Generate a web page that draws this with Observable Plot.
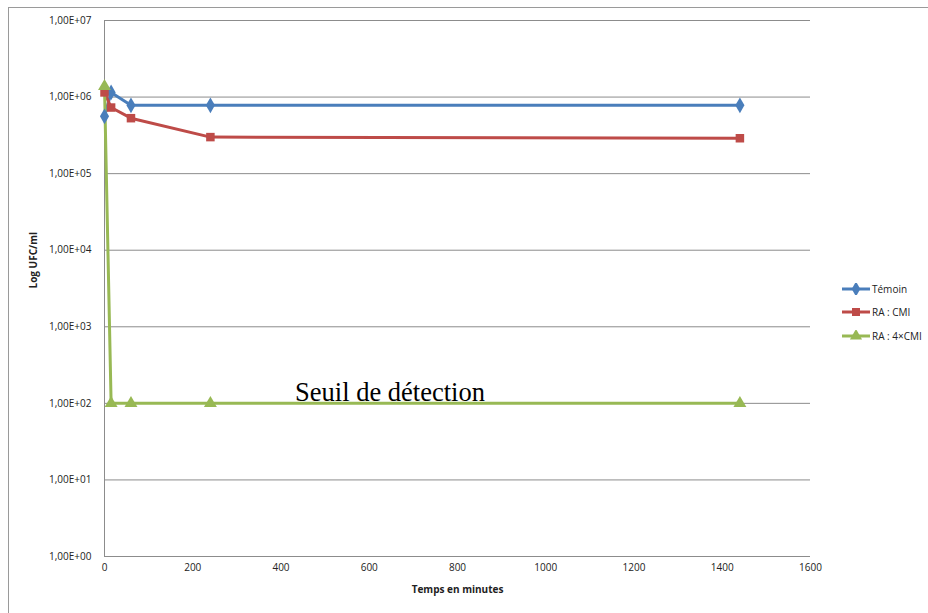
<!DOCTYPE html>
<html><head><meta charset="utf-8">
<script src="https://cdn.jsdelivr.net/npm/d3@7"></script>
<script src="https://cdn.jsdelivr.net/npm/@observablehq/plot@0.6"></script>
<style>
body{margin:0;background:#fff;overflow:hidden;width:928px;height:613px;position:relative;font-family:"Open Sans",sans-serif}
#frame{position:absolute;left:8px;top:7px;width:1000px;height:700px;border:1px solid #9a9a9a}
#chart{position:absolute;left:0;top:0}
#legend{position:absolute;left:842px;top:277px;font-size:10px;color:#222}
#legend .row{display:flex;align-items:center;height:23.5px}
</style></head>
<body>
<div id="frame"></div>
<div id="chart"></div>
<div id="legend"></div>
<script>
const times = [0, 15, 60, 240, 1440];
const temoin = [5.6e5, 1.15e6, 7.8e5, 7.8e5, 7.8e5];
const raCMI = [1.15e6, 7.3e5, 5.3e5, 3.0e5, 2.9e5];
const ra4CMI = [1.38e6, 100, 100, 100, 100];
const seriesNames = ["Témoin", "RA : CMI", "RA : 4×CMI"];
const seriesColors = ["#4a7ebb", "#be4b48", "#98b954"];
const seriesSymbols = ["diamond", "square", "triangle"];
const yTicks = [1, 10, 100, 1e3, 1e4, 1e5, 1e6, 1e7];
const xTicks = [0, 200, 400, 600, 800, 1000, 1200, 1400, 1600];

const allValues = [temoin, raCMI, ra4CMI];
const data = [];
allValues.forEach((vals, s) => vals.forEach((v, i) => data.push({t: times[i], v, s: seriesNames[s]})));

const fmt = v => "1,00E+" + String(Math.round(Math.log10(v))).padStart(2, "0");

const plot = Plot.plot({
  width: 928, height: 613,
  marginLeft: 104, marginRight: 118, marginTop: 20, marginBottom: 57,
  style: {fontFamily: "Open Sans, sans-serif", fontSize: "10px", color: "#222", background: "transparent"},
  x: {domain: [0, 1600]},
  y: {type: "log", domain: [1, 1e7]},
  color: {domain: seriesNames, range: seriesColors},
  symbol: {domain: seriesNames, range: seriesSymbols},
  marks: [
    Plot.ruleY(yTicks, {stroke: "#8c8c8c", strokeWidth: 1}),
    Plot.ruleX([0], {stroke: "#8c8c8c"}),
    Plot.axisY({ticks: yTicks, tickFormat: fmt, tickSize: 0, tickPadding: 13, label: null}),
    Plot.axisX({ticks: xTicks, tickSize: 0, tickPadding: 7, label: null, tickFormat: d => String(d)}),
    Plot.line(data, {x: "t", y: "v", z: "s", stroke: "s", strokeWidth: 3}),
    Plot.dot(data, {x: "t", y: "v", fill: "s", symbol: "s", r: 4.8, stroke: null}),
    Plot.text(["Seuil de détection"], {x: 647, y: 100, dy: -11, fontSize: 26.5, fontFamily: "Liberation Serif, Times New Roman, serif", fill: "#000"}),
    Plot.text(["Temps en minutes"], {frameAnchor: "bottom", dy: 36, fontWeight: "bold", fontSize: 10, fill: "#222"}),
    Plot.text(["Log UFC/ml"], {frameAnchor: "left", dx: -71, rotate: -90, fontWeight: "bold", fontSize: 10, fill: "#222"})
  ]
});
document.getElementById("chart").appendChild(plot);

const leg = d3.select("#legend");
seriesNames.forEach((n, i) => {
  const row = leg.append("div").attr("class", "row");
  const svg = row.append("svg").attr("width", 30).attr("height", 12);
  svg.append("line").attr("x1", 0).attr("x2", 28).attr("y1", 6).attr("y2", 6)
    .attr("stroke", seriesColors[i]).attr("stroke-width", 3);
  const sym = {diamond: d3.symbolDiamond, square: d3.symbolSquare, triangle: d3.symbolTriangle}[seriesSymbols[i]];
  svg.append("path").attr("d", d3.symbol(sym, 64)).attr("transform", "translate(14,6)").attr("fill", seriesColors[i]);
  row.append("span").text(n);
});
</script>
</body></html>
